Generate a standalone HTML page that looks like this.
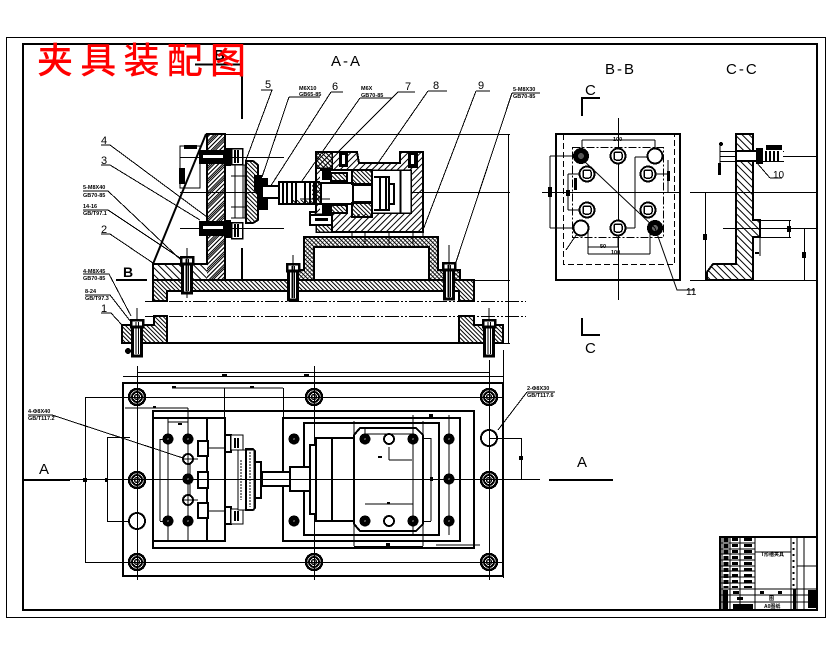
<!DOCTYPE html>
<html><head><meta charset="utf-8"><style>
html,body{margin:0;padding:0;background:#fff}
svg{display:block}
text{font-family:"Liberation Sans","Noto Sans CJK SC",sans-serif;fill:#000}
.n{font-size:11px}
.t{font-size:5.5px;font-weight:bold}
.s{font-size:15px;letter-spacing:2px}
</style></head><body>
<svg width="830" height="654" viewBox="0 0 830 654" xmlns="http://www.w3.org/2000/svg" shape-rendering="crispEdges">
<defs>
<pattern id="h1" width="3" height="3" patternUnits="userSpaceOnUse" patternTransform="rotate(45)"><rect width="3" height="1" fill="#000"/></pattern>
<pattern id="h2" width="3" height="3" patternUnits="userSpaceOnUse" patternTransform="rotate(-45)"><rect width="3" height="1" fill="#000"/></pattern>
<pattern id="h3" width="5" height="5" patternUnits="userSpaceOnUse" patternTransform="rotate(45)"><rect width="5" height="1" fill="#000"/></pattern>
<pattern id="h4" width="4.500" height="4.500" patternUnits="userSpaceOnUse" patternTransform="rotate(-45)"><rect width="5" height="1" fill="#000"/></pattern>
<g id="corner"><circle r="8" fill="none" stroke="#000" stroke-width="2.500"/><circle r="5" fill="none" stroke="#000" stroke-width="2"/><circle r="2.500" fill="none" stroke="#000" stroke-width="1.500"/></g>
<g id="black"><circle r="5.500" fill="#000"/><circle r="1" fill="#555"/></g>
<g id="open"><circle r="7.500" fill="#fff" stroke="#000" stroke-width="2"/></g>
<g id="bb"><circle r="7.500" fill="#fff" stroke="#000" stroke-width="2"/><rect x="-4" y="-4" width="8" height="8" rx="2" fill="none" stroke="#000" stroke-width="1.500"/></g>
<g id="sq"><circle r="5" fill="#fff" stroke="#000" stroke-width="2"/><path d="M-5 0H5M0-5V5" stroke="#000"/></g>
<g id="bolt"><rect x="-6" y="0" width="12" height="7" fill="#fff" stroke="#000" stroke-width="2.500"/><rect x="-4.500" y="7" width="9" height="29" fill="#fff" stroke="#000" stroke-width="3"/><path d="M-1 2V34M1.500 2V34" stroke="#000"/></g>
</defs>
<rect width="830" height="654" fill="#fff"/>
<rect x="6.500" y="37.500" width="819" height="580" fill="none" stroke="#000"/>
<rect x="23" y="44" width="794" height="566" fill="none" stroke="#000" stroke-width="2"/>

<!-- B mark -->
<path d="M195 64.500H241" stroke="#000" stroke-width="2"/><path d="M242 64V119" stroke="#000" stroke-width="2"/>
<text x="214" y="60" style="font-size:15px;font-weight:bold">B</text>
<text class="s" x="331" y="66">A-A</text>
<text class="s" x="605" y="74">B-B</text>
<text class="s" x="726" y="74">C-C</text>

<!-- A-A: extension lines -->
<g stroke="#000" fill="none">
<path d="M225 134.500H510M180 192.500H510M180 157.500H284M180 228.500H284M475 280.500H510M474 343.500H510M508.500 134V343"/>
<path d="M145 301.500H526M145 316.500H526" stroke-dasharray="14 2 2 2 2 2"/>
<path d="M261 90H272L246 160M289 97H320M289 97L262 177M331 92H343M331 92L263 198M360 98H392M360 98L297 188M398 92H415M398 92L338 152M428 91H447M428 91L378 163M476 91H490M476 91L423 230M512 93H540M512 93L456 262"/>
<path d="M101 145H110L207 217M101 165H110L200 220M83 191H108L183 262M83 210H108L183 260M101 234H110L153 263M83 274H109L131 316M85 295H110L131 322M101 313H111L122 325"/>
</g>
<g class="n"><text class="n" x="265" y="88">5</text><text class="n" x="332" y="90">6</text><text class="n" x="405" y="90">7</text><text class="n" x="433" y="89">8</text><text class="n" x="478" y="89">9</text><text class="n" x="101" y="144">4</text><text class="n" x="101" y="164">3</text><text class="n" x="101" y="233">2</text><text class="n" x="101" y="312">1</text></g>
<g class="t"><text class="t" x="299" y="90">M6X10</text><text class="t" x="299" y="96">GB65-85</text><text class="t" x="361" y="90">M6X</text><text class="t" x="361" y="97">GB70-85</text><text class="t" x="513" y="91">5-M8X30</text><text class="t" x="513" y="98">GB70-85</text><text class="t" x="83" y="189">5-M8X40</text><text class="t" x="83" y="197">GB70-85</text><text class="t" x="83" y="208">14-16</text><text class="t" x="83" y="215">GB/T97.1</text><text class="t" x="83" y="273">4-M8X45</text><text class="t" x="83" y="280">GB70-85</text><text class="t" x="85" y="293">8-24</text><text class="t" x="85" y="300">GB/T97.3</text></g>
<text x="123" y="277" style="font-size:14px;font-weight:bold">B</text><path d="M116 280H147" stroke="#000" stroke-width="2"/>

<!-- Fixture body -->
<path d="M153 264H207V280H153Z" fill="url(#h3)"/><path d="M207 134H225V280H207Z" fill="url(#h4)"/><path d="M207 134H225V280H207Z" fill="url(#h2)"/>
<path d="M153 264H207V134H225V280H153Z" fill="none" stroke="#000" stroke-width="2"/>
<path d="M153 264L206 134" stroke="#000" stroke-width="2" shape-rendering="auto"/>
<path d="M153 280H474V301H459V291H167V301H153Z" fill="url(#h1)" stroke="#000" stroke-width="2"/>
<path d="M304 237H438V270H460V280H297V270H304Z" fill="url(#h1)" stroke="#000" stroke-width="2"/>
<path d="M304 237H438V270H460V280H297V270H304Z" fill="url(#h2)" opacity=".5"/>
<rect x="314" y="247" width="115" height="33" fill="#fff" stroke="#000" stroke-width="2"/>
<!-- supports -->
<path d="M352 232V237M365 232V244M389 232V244M413 232V244M423 232V237" stroke="#000"/>
<!-- lower base -->
<path d="M122 325H154V316H167V343H122Z" fill="url(#h1)" stroke="#000" stroke-width="2"/>
<path d="M459 316H474V325H503V343H459Z" fill="url(#h1)" stroke="#000" stroke-width="2"/>
<path d="M122 343H503" stroke="#000" stroke-width="2"/>
<use href="#bolt" x="137" y="320"/><use href="#bolt" x="489" y="320"/>
<path d="M137 308V320M489 308V320" stroke="#000"/><circle cx="128" cy="351" r="3" fill="#000"/>
<use href="#bolt" x="187" y="257"/><use href="#bolt" x="293" y="264"/><use href="#bolt" x="449" y="263"/>
<path d="M187 248V298M293 255V298M449 245V298" stroke="#000"/>
<path d="M242 248V279" stroke="#000" stroke-width="2"/>

<!-- clamp: bolts on plate -->
<rect x="199" y="150" width="26" height="14" fill="#000"/><rect x="203" y="155" width="20" height="3" fill="#fff"/>
<rect x="199" y="221" width="26" height="15" fill="#000"/><rect x="203" y="226" width="20" height="3" fill="#fff"/>
<rect x="225" y="148" width="6" height="18" fill="#000"/><rect x="225" y="220" width="6" height="18" fill="#000"/>
<g fill="none" stroke="#000"><rect x="231.500" y="148.500" width="11" height="16" stroke-width="1.500"/><rect x="231.500" y="222.500" width="11" height="16" stroke-width="1.500"/><path d="M235 150V163M238 150V163M235 224V237M238 224V237" stroke-width="2"/>
<path d="M231 165H245V218H231M231 176H245M231 207H245M235 165V218M243 165V218"/></g>
<path d="M180 146H200V188H180Z" fill="none" stroke="#000"/><rect x="184" y="145" width="13" height="4" fill="#000"/><rect x="179" y="168" width="6" height="16" fill="#000"/>
<path d="M248 161H253L258 165V220L253 223H246V161Z" fill="url(#h1)" stroke="#000" stroke-width="2"/>
<path d="M254 175H262V178H268V210H258V195L254 190Z" fill="#000"/>
<path d="M258 190L262 195V205L258 210Z" fill="url(#h3)"/>
<rect x="262" y="186" width="18" height="12" fill="#fff" stroke="#000" stroke-width="2"/>
<rect x="279" y="182" width="43" height="22" fill="#fff" stroke="#000" stroke-width="2"/>
<path d="M283 182V204M287 182V204M292 182V204M296 182V204M305 182V204M310 182V204M314 182V204" stroke="#000" stroke-width="2"/>
<path d="M312 182H322V204H292V200H312Z" fill="url(#h1)"/>

<!-- housing -->
<path d="M316 152H357L359 163H400V152H423V232H332V225H310V212H316V158Z" fill="url(#h4)" stroke="#000" stroke-width="2"/>
<path d="M316 152H332V168H316Z" fill="url(#h1)" stroke="#000" stroke-width="1.500"/>
<rect x="372" y="170" width="39" height="43" fill="#fff" stroke="#000" stroke-width="1.500"/>
<path d="M400.500 170V213" stroke="#000" stroke-width="2"/>
<rect x="320" y="170" width="52" height="44" fill="#fff"/>
<rect x="320" y="214" width="12" height="18" fill="#fff"/>
<path d="M320 170H372V214M332 214V232" fill="none" stroke="#000" stroke-width="2"/>
<rect x="321" y="183" width="32" height="21" fill="#fff" stroke="#000" stroke-width="2"/>
<rect x="353" y="185" width="19" height="17" fill="#fff" stroke="#000" stroke-width="2"/>
<rect x="352" y="170" width="20" height="14" fill="url(#h1)" stroke="#000" stroke-width="2"/>
<rect x="352" y="203" width="20" height="14" fill="url(#h1)" stroke="#000" stroke-width="2"/>
<rect x="331" y="173" width="16" height="8" fill="url(#h1)" stroke="#000" stroke-width="2"/>
<rect x="331" y="205" width="16" height="8" fill="url(#h1)" stroke="#000" stroke-width="2"/>
<rect x="322" y="170" width="9" height="10" fill="#000"/><rect x="322" y="205" width="9" height="10" fill="#000"/>
<path d="M316 214H332V232H316Z" fill="url(#h1)" stroke="#000" stroke-width="1.500"/>
<rect x="310" y="215" width="22" height="10" fill="#fff" stroke="#000" stroke-width="2"/><rect x="315" y="218" width="13" height="3" fill="#000"/>
<rect x="339" y="153" width="9" height="14" fill="#000"/><rect x="342" y="155" width="3" height="9" fill="#fff"/>
<rect x="408" y="153" width="10" height="15" fill="#000"/><rect x="411" y="155" width="3" height="9" fill="#fff"/>
<path d="M374 177H389V210H374M380 177V210M386 177V210M389 184H394V204H389" fill="none" stroke="#000" stroke-width="2"/>
<path d="M300 199H330" stroke="#000"/>

<!-- B-B view -->
<path d="M582 116V98H600M582 318V335H600" fill="none" stroke="#000" stroke-width="2"/>
<text x="585" y="95" style="font-size:15px">C</text><text x="585" y="353" style="font-size:15px">C</text>
<rect x="556" y="134" width="124" height="146" fill="none" stroke="#000" stroke-width="2"/>
<path d="M563.500 134V264.500H674.500V134" fill="none" stroke="#000" stroke-dasharray="6 3"/>
<rect x="572.500" y="147.500" width="91" height="90" fill="none" stroke="#000" stroke-dasharray="8 2 2 2"/>
<path d="M618.500 118V300M542 192.500H680" stroke="#000"/>
<g fill="none" stroke="#000">
<path d="M582 140H655M582 140V156M655 140V156M550 156H574M550 228H574M550 156V228M568 174H580M568 210H580M568 174V210M635 157H655M635 157V228M610 228H635M668 160V192M655 174H668M588 247H618M588 254H650M588 228V254M650 228V254M618 237V247M581 228L566 250"/>
</g>
<use href="#bb" x="618" y="156"/><use href="#open" x="655" y="156"/><use href="#bb" x="587" y="174"/><use href="#bb" x="648" y="174"/><use href="#bb" x="587" y="210"/><use href="#bb" x="648" y="210"/><use href="#open" x="581" y="228"/><use href="#bb" x="618" y="228"/>
<circle cx="581" cy="156" r="8" fill="#000"/><circle cx="581" cy="156" r="3" fill="#555"/>
<circle cx="655" cy="228" r="8" fill="#000"/><circle cx="655" cy="228" r="3" fill="#666"/>
<path d="M583 160L655 228L677 290H695" fill="none" stroke="#000" shape-rendering="auto"/>
<text class="n" x="686" y="295" style="font-size:10px">11</text>
<g class="t"><text class="t" x="613" y="141">100</text><text class="t" x="600" y="248">50</text><text class="t" x="611" y="254">100</text><rect x="548" y="187" width="4" height="10" fill="#000"/><rect x="566" y="190" width="4" height="6" fill="#000"/><rect x="574" y="178" width="3" height="12" fill="#000"/><rect x="667" y="171" width="3" height="10" fill="#000"/></g>

<!-- C-C view -->
<path d="M736 134H753V220H760V237H753V280H707V272L713 264H736Z" fill="url(#h3)" stroke="#000" stroke-width="2"/>
<path d="M690 192.500H723M723 192.500H817M723 228.500H817M690 280.500H817M705.500 192V280M804.500 228V280M720 151.500H784M720 156.500H817M720 161.500H784M760 220.500H791M760 237.500H791M789.500 220V237M760 237V256M720 144V172" stroke="#000" fill="none"/>
<rect x="736" y="151" width="22" height="10" fill="#fff" stroke="#000" stroke-width="2"/>
<rect x="756" y="148" width="7" height="16" fill="#000"/><rect x="763" y="151" width="20" height="10" fill="#fff"/><path d="M766 151V161M770 151V161M774 151V161M778 151V161" stroke="#000" stroke-width="2"/>
<rect x="766" y="145" width="16" height="5" fill="#000"/><circle cx="721" cy="144" r="2" fill="#000"/><rect x="718" y="163" width="3" height="12" fill="#000"/>
<rect x="703" y="234" width="4" height="6" fill="#000"/><rect x="802" y="252" width="4" height="6" fill="#000"/><rect x="787" y="226" width="4" height="6" fill="#000"/><rect x="755" y="252" width="4" height="2" fill="#000"/>
<path d="M770 178H782M770 178L757 163" stroke="#000" fill="none"/><text x="773" y="178" style="font-size:10px">10</text>

<!-- A marks -->
<text x="39" y="474" style="font-size:15px">A</text><text x="577" y="467" style="font-size:15px">A</text>
<path d="M23 480H70M549 480H613" stroke="#000" stroke-width="2"/>

<!-- Top view -->
<rect x="123" y="383" width="380" height="193" fill="none" stroke="#000" stroke-width="2"/>
<rect x="153" y="411" width="321" height="137" fill="none" stroke="#000" stroke-width="2"/>
<path d="M23 479.500H540" stroke="#000"/>
<g fill="none" stroke="#000">
<path d="M137.500 366V580M314.500 366V580M489.500 360V580M503.500 350V578M137 372.500H490M123 376.500H503M224.500 388V418M172 388H283M283.500 388V418M125 408H188M188 408V418M85.500 397V562M107.500 437V521M85 397.500H130M85 562.500H130M107 521.500H130M107 437.500H130M123 397.500H503M123 562.500H503M490 438.500H521M521.500 438V479M354 421V546M423 421V546M354 546.500H423M413 415V535M449 415V535M436 545H480M389 447V460M389 460H412M365 504H413M431 438V521M423 438.500H431M423 521.500H431M168 422H188M168 422V439M188 418V439M190 459V500M198 459H190M198 500H190M160 439V521M160 439.500H168M160 521.500H168M168 418V541M188 418V541M198 448H225M198 511H225"/>
<path d="M28 415H52L183 458" /><path d="M527 392H555M527 392L498 430"/>
</g>
<g class="t"><text class="t" x="28" y="413">4-Φ8X40</text><text class="t" x="28" y="420">GB/T117.2</text><text class="t" x="527" y="390">2-Φ8X30</text><text class="t" x="527" y="397">GB/T117.6</text></g>
<g fill="#000"><rect x="222" y="374" width="5" height="3"/><rect x="304" y="374" width="5" height="3"/><rect x="172" y="386" width="4" height="2"/><rect x="250" y="386" width="4" height="2"/><rect x="153" y="406" width="3" height="2"/><rect x="178" y="423" width="4" height="2"/><rect x="429" y="414" width="4" height="3"/><rect x="386" y="543" width="4" height="3"/><rect x="519" y="456" width="4" height="4"/><rect x="83" y="478" width="4" height="4"/><rect x="105" y="478" width="3" height="4"/><rect x="430" y="477" width="3" height="4"/><rect x="378" y="456" width="4" height="2"/><rect x="387" y="502" width="3" height="2"/></g>

<rect x="153" y="418" width="72" height="123" fill="none" stroke="#000" stroke-width="2"/>
<path d="M207 418V541" stroke="#000" stroke-width="2"/>
<rect x="283" y="418" width="177" height="123" fill="none" stroke="#000" stroke-width="2"/>
<rect x="304" y="423" width="135" height="112" fill="none" stroke="#000" stroke-width="2"/>
<path d="M450 548H474V544" fill="none" stroke="#000"/>
<path d="M310 445H316V514H310ZM316 438H354V521H316ZM332 438V521" fill="#fff" stroke="#000" stroke-width="2"/>
<path d="M360 428H416L423 435V524L416 531H360L354 524V435Z" fill="none" stroke="#000" stroke-width="2"/>
<path d="M365 428V434H413V428" fill="none" stroke="#000"/>
<g fill="#fff" stroke="#000" stroke-width="2">
<rect x="198" y="441" width="10" height="15"/><rect x="198" y="472" width="10" height="16"/><rect x="198" y="503" width="10" height="15"/>
<rect x="225" y="435" width="6" height="17"/><rect x="225" y="507" width="6" height="17"/>
<rect x="231" y="435" width="12" height="15" stroke-width="1"/><rect x="231" y="509" width="12" height="15" stroke-width="1"/>
<rect x="238" y="450" width="16" height="60" stroke-width="1"/>
</g>
<path d="M235 438V448M238 438V448M235 511V521M238 511V521" stroke="#000" stroke-width="2"/>
<path d="M246 449H253L255 451V508L253 510H246Z" fill="none" stroke="#000" stroke-width="2"/>
<path d="M250 452V507M241 460V500" stroke="#000" stroke-dasharray="2 1"/>
<path d="M255 462H261V498H255" fill="none" stroke="#000" stroke-width="2"/>
<rect x="262" y="472" width="28" height="14" fill="#fff" stroke="#000" stroke-width="2"/>
<rect x="290" y="467" width="20" height="24" fill="#fff" stroke="#000" stroke-width="2"/>
<path d="M23 479.500H540" stroke="#000"/>

<use href="#corner" x="137" y="397"/><use href="#corner" x="314" y="397"/><use href="#corner" x="489" y="397"/>
<use href="#corner" x="137" y="480"/><use href="#corner" x="489" y="480"/>
<use href="#corner" x="137" y="562"/><use href="#corner" x="314" y="562"/><use href="#corner" x="489" y="562"/>
<circle cx="137" cy="521" r="8" fill="none" stroke="#000" stroke-width="2"/><circle cx="489" cy="438" r="8" fill="none" stroke="#000" stroke-width="2"/>
<use href="#black" x="168" y="439"/><use href="#black" x="188" y="439"/><use href="#black" x="168" y="521"/><use href="#black" x="188" y="521"/><use href="#black" x="188" y="479"/>
<use href="#sq" x="188" y="459"/><use href="#sq" x="188" y="500"/>
<use href="#black" x="294" y="439"/><use href="#black" x="294" y="521"/>
<use href="#black" x="449" y="439"/><use href="#black" x="449" y="479"/><use href="#black" x="449" y="521"/>
<use href="#black" x="365" y="439"/><use href="#black" x="413" y="439"/><use href="#black" x="365" y="521"/><use href="#black" x="413" y="521"/>
<circle cx="389" cy="439" r="5" fill="none" stroke="#000" stroke-width="2"/><circle cx="389" cy="521" r="5" fill="none" stroke="#000" stroke-width="2"/>

<!-- Title block -->
<rect x="720" y="537" width="97" height="73" fill="#fff" stroke="#000" stroke-width="2"/>
<g stroke="#000" fill="none">
<path d="M722 537V610M730 537V610M740 537V610M755 537V610M791 537V610M797 537V610M804 537V610"/>
<path d="M720 543H755M720 549H755M720 554H755M720 560H755M720 566H755M720 571H755M720 577H755M720 583H755M720 589H817M720 595H817M720 602H817M797 566H817M755 552H791"/>
<path d="M726 538V588" stroke-width="5" stroke-dasharray="4 2"/>
<path d="M735 538V588" stroke-width="6" stroke-dasharray="3 3"/>
<path d="M748 538V588" stroke-width="8" stroke-dasharray="3 3"/>
<path d="M793.500 542V588" stroke-width="2" stroke-dasharray="2 4"/>
</g>
<g fill="#000">
<rect x="723" y="590" width="5" height="19"/><rect x="733" y="604" width="20" height="5"/><rect x="737" y="597" width="6" height="3"/><rect x="733" y="591" width="6" height="3"/><rect x="760" y="591" width="4" height="3"/><rect x="778" y="591" width="4" height="3"/><rect x="793" y="589" width="3" height="20"/><rect x="808" y="590" width="8" height="18"/>
</g>
<text class="t" x="761" y="556" style="font-size:5px">T形槽夹具</text>
<text class="t" x="769" y="600" style="font-size:5px">图</text>
<text class="t" x="764" y="608" style="font-size:5px">A0图纸</text>

<!-- Red title -->
<text x="37" y="73" style="font-family:'Noto Sans CJK SC','Liberation Sans',sans-serif;font-size:36px;fill:#f00;font-weight:500" textLength="209" lengthAdjust="spacing" shape-rendering="auto">夹具装配图</text>
</svg>
</body></html>
